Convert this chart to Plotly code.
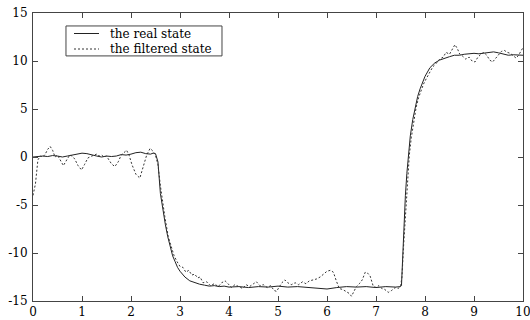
import plotly.graph_objects as go

real_x = [0, 0.1, 0.2, 0.3, 0.4, 0.5, 0.6, 0.7, 0.8, 0.9, 1.0, 1.1, 1.2, 1.3, 1.4, 1.5, 1.6, 1.7, 1.8, 1.9,
          2.0, 2.1, 2.2, 2.3, 2.4, 2.45, 2.5, 2.55, 2.6, 2.65, 2.7, 2.75, 2.8, 2.85, 2.9, 2.95, 3.0, 3.1, 3.2,
          3.3, 3.4, 3.5, 3.6, 3.7, 3.8, 3.9, 4.0, 4.2, 4.4, 4.6, 4.8, 5.0, 5.2, 5.4, 5.6, 5.8, 6.0, 6.2, 6.4,
          6.6, 6.8, 7.0, 7.2, 7.4, 7.5, 7.52, 7.54, 7.57, 7.6, 7.63, 7.67, 7.7, 7.75, 7.8, 7.85, 7.9, 7.95,
          8.0, 8.1, 8.2, 8.3, 8.4, 8.5, 8.6, 8.7, 8.8, 8.9, 9.0, 9.1, 9.2, 9.3, 9.4, 9.5, 9.6, 9.7, 9.8, 9.9, 10.0]
real_y = [0.0, 0.05, 0.1, 0.05, 0.15, 0.1, 0.0, 0.1, 0.2, 0.3, 0.4, 0.35, 0.2, 0.1, 0.0, 0.1, 0.05, 0.1, 0.25, 0.2,
          0.3, 0.45, 0.5, 0.35, 0.3, 0.4, 0.35, -0.5, -3.8, -5.6, -7.0, -8.3, -9.4, -10.3, -10.9, -11.5, -11.9, -12.5, -12.9,
          -13.1, -13.25, -13.35, -13.45, -13.4, -13.5, -13.45, -13.55, -13.5, -13.6, -13.5, -13.55, -13.45, -13.55, -13.5, -13.6, -13.7, -13.75, -13.6, -13.5,
          -13.55, -13.5, -13.6, -13.5, -13.55, -13.5, -13.4, -10.5, -7.0, -4.0, -1.7, 0.8, 2.2, 3.9, 5.2, 6.3, 7.1, 7.8,
          8.4, 9.3, 9.8, 10.1, 10.3, 10.45, 10.6, 10.6, 10.7, 10.75, 10.8, 10.75, 10.8, 10.9, 10.95, 10.85, 10.7, 10.6, 10.65, 10.6, 10.6]

filt_x = [0, 0.05, 0.1, 0.15, 0.2, 0.25, 0.3, 0.35, 0.4, 0.45, 0.5, 0.55, 0.62, 0.7, 0.75, 0.8, 0.85, 0.92, 0.99,
          1.05, 1.12, 1.2, 1.3, 1.35, 1.4, 1.45, 1.5, 1.55, 1.6, 1.67, 1.74, 1.8, 1.86, 1.91, 1.96, 2.02, 2.1,
          2.18, 2.25, 2.32, 2.39, 2.45, 2.5, 2.55, 2.6, 2.65, 2.69, 2.76, 2.82, 2.88, 2.94, 3.0, 3.06, 3.12,
          3.18, 3.24, 3.3, 3.36, 3.41, 3.47, 3.55, 3.62, 3.7, 3.78, 3.85, 3.92, 3.98, 4.05, 4.12, 4.2, 4.28,
          4.35, 4.42, 4.5, 4.56, 4.63, 4.7, 4.78, 4.85, 4.92, 4.97, 5.03, 5.08, 5.14, 5.2, 5.27, 5.35, 5.42,
          5.5, 5.57, 5.64, 5.72, 5.79, 5.86, 5.93, 6.0, 6.07, 6.13, 6.19, 6.25, 6.32, 6.4, 6.45, 6.5, 6.55,
          6.6, 6.66, 6.72, 6.78, 6.83, 6.88, 6.94, 7.0, 7.06, 7.12, 7.18, 7.25, 7.32, 7.39, 7.45, 7.5, 7.53,
          7.56, 7.6, 7.64, 7.68, 7.72, 7.77, 7.82, 7.87, 7.92, 7.97, 8.03, 8.1, 8.16, 8.22, 8.3, 8.37, 8.43,
          8.5, 8.55, 8.61, 8.66, 8.71, 8.77, 8.83, 8.9, 8.96, 9.02, 9.08, 9.14, 9.2, 9.26, 9.32, 9.38, 9.44,
          9.5, 9.56, 9.62, 9.68, 9.74, 9.8, 9.86, 9.91, 9.95, 10.0]
filt_y = [-4.0, -2.8, -0.3, 0.1, 0.0, 0.3, 0.8, 1.1, 0.7, 0.0, 0.2, -0.3, -0.9, -0.2, 0.2, 0.1, -0.2, -0.9, -1.35,
          -0.8, -0.1, 0.1, 0.3, 0.1, 0.2, 0.0, 0.1, -0.3, -0.7, -1.0, -0.5, 0.2, 0.5, 0.7, 0.2, -0.8, -1.8,
          -2.2, -1.0, 0.2, 0.9, 0.6, 0.2, -0.8, -3.0, -5.0, -6.2, -8.3, -9.4, -10.3, -10.9, -11.4, -11.5, -12.0,
          -11.8, -12.3, -12.2, -12.6, -12.5, -13.1, -13.0, -13.4, -13.2, -13.5, -13.1, -12.9, -13.2, -13.6, -13.3, -13.5, -13.7,
          -13.3, -13.5, -13.2, -13.0, -13.4, -13.3, -13.6, -13.4, -13.9, -14.0, -13.5, -13.1, -12.8, -13.1, -13.3, -13.1, -13.3,
          -13.0, -13.2, -12.9, -12.8, -12.7, -12.5, -12.2, -11.9, -11.8, -12.0, -12.9, -13.7, -13.8, -14.0, -14.2, -14.5, -14.0,
          -13.5, -13.2, -12.8, -12.0, -12.1, -12.4, -13.4, -13.6, -13.4, -13.7, -13.8, -14.1, -13.9, -13.6, -13.7, -13.5, -12.5,
          -9.5, -6.0, -2.5, 0.2, 2.0, 3.8, 5.2, 6.2, 7.0, 7.6, 8.2, 8.9, 9.4, 9.7, 10.2, 10.4, 10.9,
          10.7, 11.2, 11.7, 11.3, 10.7, 10.5, 10.2, 10.4, 10.0, 9.9, 10.4, 10.7, 10.9, 10.6, 10.1, 9.9, 10.3,
          10.7, 11.0, 11.1, 10.9, 10.8, 10.5, 10.3, 10.6, 11.0, 11.4]

x_ticks = [0, 1, 2, 3, 4, 5, 6, 7, 8, 9, 10]
y_ticks = [-15, -10, -5, 0, 5, 10, 15]
y_tick_text = ["-15", "-10", "-5", "0", "5", "10", "15"]
series_names = ["the real state", "the filtered state"]

tick_font = dict(family="DejaVu Serif, Liberation Serif, serif", size=12, color="black")
legend_font = dict(family="DejaVu Serif, Liberation Serif, serif", size=12, color="black")
axis_color = "#444444"
solid_color = "#222222"
dash_color = "#333333"
dash_style = "2px,2px"

fig = go.Figure()
fig.add_trace(go.Scatter(x=real_x, y=real_y, mode="lines", name=series_names[0],
                         line=dict(color=solid_color, width=1), showlegend=False))
fig.add_trace(go.Scatter(x=filt_x, y=filt_y, mode="lines", name=series_names[1],
                         line=dict(color=dash_color, width=1, dash=dash_style), showlegend=False))

axis_common = dict(showline=True, linecolor=axis_color, linewidth=1, mirror="ticks",
                   ticks="inside", ticklen=5, tickcolor=axis_color, showgrid=False,
                   zeroline=False, tickfont=tick_font, ticklabeloverflow="allow",
                   automargin=False)

# compact legend box drawn like the original
lg_x0, lg_x1, lg_y0, lg_y1 = 0.0673, 0.3857, 0.851, 0.955
sample_x0, sample_x1, text_x = 0.0837, 0.1347, 0.153
row_y = [0.9288, 0.875]
shapes = [dict(type="rect", xref="paper", yref="paper", x0=lg_x0, x1=lg_x1, y0=lg_y0, y1=lg_y1,
               line=dict(color=axis_color, width=1), fillcolor="white", layer="above")]
shapes.append(dict(type="line", xref="paper", yref="paper", x0=sample_x0, x1=sample_x1,
                   y0=row_y[0], y1=row_y[0], line=dict(color=solid_color, width=1), layer="above"))
shapes.append(dict(type="line", xref="paper", yref="paper", x0=sample_x0, x1=sample_x1,
                   y0=row_y[1], y1=row_y[1], line=dict(color=dash_color, width=1, dash=dash_style),
                   layer="above"))
annotations = [dict(xref="paper", yref="paper", x=text_x, y=ry, text=nm, showarrow=False,
                    xanchor="left", yanchor="middle", font=legend_font)
               for ry, nm in zip(row_y, series_names)]

fig.update_layout(
    width=530, height=320,
    margin=dict(l=33, r=7, t=13, b=19),
    paper_bgcolor="white", plot_bgcolor="white",
    xaxis=dict(range=[0, 10], tickvals=x_ticks, ticklabelstandoff=0, **axis_common),
    yaxis=dict(range=[-15, 15], tickvals=y_ticks, ticktext=y_tick_text, ticklabelstandoff=2,
               **axis_common),
    shapes=shapes,
    annotations=annotations,
    showlegend=False,
)

fig.write_html("out.html", config={"displayModeBar": False},
               post_script="document.body.style.margin='0';")
